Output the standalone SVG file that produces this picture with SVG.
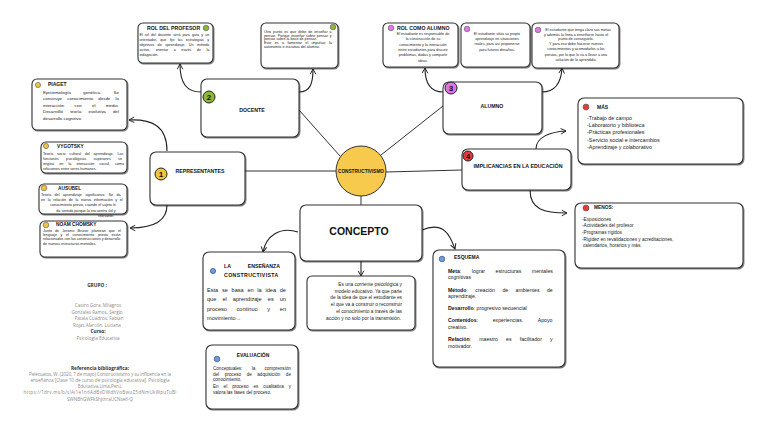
<svg xmlns="http://www.w3.org/2000/svg" width="768" height="431" viewBox="0 0 768 431">
<defs>
<filter id="sh" x="-10%" y="-10%" width="120%" height="130%">
<feDropShadow dx="0.8" dy="1" stdDeviation="0.6" flood-color="#000" flood-opacity="0.55"/>
</filter>
<marker id="ar" viewBox="0 0 8 8" refX="7" refY="4" markerWidth="7" markerHeight="7" orient="auto" markerUnits="userSpaceOnUse">
<path d="M1,0.8 L7,4 L1,7.2" fill="none" stroke="#222" stroke-width="1.1"/>
</marker>
<style>
.box{fill:#fff;stroke:#333;stroke-width:1.1;filter:url(#sh)}
.t{font-family:"Liberation Sans",Arial,sans-serif;fill:#222}
.h{font-family:"Liberation Sans",Arial,sans-serif;font-weight:bold;fill:#111}
.s{font-size:3.7px}
.m{font-size:4.4px}
.g{font-family:"Open Sans","Liberation Sans",sans-serif;fill:#8a8a8a;font-size:4.6px}
.gb{font-family:"Open Sans","Liberation Sans",sans-serif;fill:#333;font-size:4.8px;font-weight:bold}
.c{text-anchor:middle}
.r{text-anchor:end}
.ln{fill:none;stroke:#333;stroke-width:1}
.cv{fill:none;stroke:#222;stroke-width:1.1;marker-end:url(#ar)}
.num{stroke:#222;stroke-width:1}
.numt{font-family:"Liberation Sans",Arial,sans-serif;font-weight:bold;font-size:8px;fill:#111;text-anchor:middle}
.dy{fill:#f3c43e;stroke:#555;stroke-width:0.6}
.dg{fill:#8cb832;stroke:#555;stroke-width:0.6}
.dp{fill:#e07ae6;stroke:#555;stroke-width:0.6}
.dr{fill:#e23b3b;stroke:#555;stroke-width:0.6}
.db{fill:#6d9ce2;stroke:#34507a;stroke-width:0.7}
.bd{font-weight:bold;fill:#111}
</style>
</defs>

<g id="connectors">
<path class="ln" d="M245,171 L336,171"/>
<path class="ln" d="M299,110 L340,156"/>
<path class="ln" d="M381,155 L443,106"/>
<path class="ln" d="M386,172 L462,170"/>
<path class="ln" d="M361,196 L361,205"/>
<path class="cv" d="M361,261 L361,276"/>
<path class="cv" d="M167,151 C167,126 152,119 129,120"/>
<path class="cv" d="M167,205 C167,222 152,228 130,228"/>
<path class="cv" d="M201,92 C187,92 180,84 180,64"/>
<path class="cv" d="M299,92 C310,92 313,84 313,69"/>
<path class="cv" d="M443,92 C430,92 425,83 425,68"/>
<path class="cv" d="M542,92 C555,92 561,84 562,68"/>
<path class="cv" d="M536,149 C536,137 550,132 566,131"/>
<path class="cv" d="M530,190 C530,210 545,213 567,213"/>
<path class="cv" d="M298,232 C280,226 266,236 263,252"/>
<path class="cv" d="M422,230 C445,220 451,238 455,249"/>
</g>

<g id="constructivismo">
<circle cx="361" cy="171" r="25" fill="#f7c94c" stroke="#333" stroke-width="1"/>
<text class="h c" x="361" y="173" font-size="5.6" textLength="46" lengthAdjust="spacingAndGlyphs">CONSTRUCTIVISMO</text>
</g>

<g id="representantes">
<rect class="box" x="150" y="152" width="95" height="53" rx="6"/>
<circle class="num" cx="161" cy="174" r="6" fill="#f3c43e"/>
<text class="numt" x="161" y="177">1</text>
<text class="h c" x="200" y="173" font-size="5.2">REPRESENTANTES</text>
</g>

<g id="piaget">
<rect class="box" x="32" y="79" width="95" height="51" rx="5"/>
<circle class="dy" cx="38" cy="85" r="2.6"/>
<text class="h" x="48" y="86" font-size="5">PIAGET</text>
<text class="t m" x="43" y="94" word-spacing="11.2">Epistemología genética. Se</text>
<text class="t m" x="43" y="100" word-spacing="4">construye conocimiento desde la</text>
<text class="t m" x="43" y="106.5" word-spacing="9.1">interacción con el medio.</text>
<text class="t m" x="43" y="113" word-spacing="5.9">Desarrolló teoría evolutiva del</text>
<text class="t m" x="43" y="119.5">desarrollo cognitivo.</text>
</g>

<g id="vygotsky">
<rect class="box" x="41" y="142" width="86" height="31" rx="5"/>
<circle class="dy" cx="46" cy="146" r="2.6"/>
<text class="h" x="57" y="148" font-size="4.8">VYGOTSKY</text>
<text class="t s" x="43" y="154.5" word-spacing="2.7">Teoría socio cultural del aprendizaje. Las</text>
<text class="t s" x="43" y="159.7" word-spacing="6.3">funciones psicológicas superiores se</text>
<text class="t s" x="43" y="165" word-spacing="4.1">origina en la interacción social, como</text>
<text class="t s" x="43" y="170.3">relaciones entre seres humanos.</text>
</g>

<g id="ausubel">
<rect class="box" x="39" y="184" width="88" height="30" rx="5"/>
<circle class="dy" cx="44" cy="188" r="2.8"/>
<text class="h" x="58" y="189.5" font-size="4.8">AUSUBEL</text>
<text class="t s" x="41" y="195.5" word-spacing="2.3">Teoría del aprendizaje significativo. Se da</text>
<text class="t s" x="41" y="200.8" word-spacing="1.6">en la relación de la nueva información y el</text>
<text class="t s c" x="83" y="206.3">conocimiento previo, cuando el sujeto le</text>
<text class="t s c" x="86" y="211.7">da sentido porque lo encuentra útil y</text>
<text class="t s" x="98" y="216.8">relevante.</text>
</g>

<g id="chomsky">
<rect class="box" x="40" y="221" width="87" height="36" rx="5"/>
<circle class="dy" cx="46" cy="225" r="2.8"/>
<text class="h" x="56" y="226" font-size="4.8">NOAM CHOMSKY</text>
<text class="t s" x="43" y="232" word-spacing="2">Junto de Jerome Bruner plantean que el</text>
<text class="t s" x="43" y="235.8" word-spacing="2.6">lenguaje y el conocimiento previo están</text>
<text class="t" x="43" y="239.6" font-size="3.6">relacionados con las construcciones y desarrollo</text>
<text class="t s" x="43" y="244.5">de nuevas estructuras mentales.</text>
</g>

<g id="docente">
<rect class="box" x="201" y="79" width="98" height="58" rx="6"/>
<circle class="num" cx="209" cy="97" r="6" fill="#8cb832"/>
<text class="numt" x="209" y="100">2</text>
<text class="h c" x="252" y="112" font-size="5.2">DOCENTE</text>
</g>

<g id="rol-profesor">
<rect class="box" x="138" y="23" width="75" height="40" rx="5"/>
<circle class="dg" cx="206" cy="28" r="2.8"/>
<text class="h" x="147" y="30" font-size="5.2">ROL DEL PROFESOR</text>
<text class="t s" x="139.5" y="35.5" word-spacing="1.06">El rol del docente será para guía y un</text>
<text class="t s" x="139.5" y="40.7" word-spacing="2.3">orientador, que fije las estrategias y</text>
<text class="t s" x="139.5" y="45.8" word-spacing="2.5">objetivos de aprendizaje. Un método</text>
<text class="t s" x="139.5" y="50.8" word-spacing="4.5">activo, orientar a través de la</text>
<text class="t s" x="139.5" y="56">indagación.</text>
</g>

<g id="ensenar-pensar">
<rect class="box" x="261" y="23" width="77" height="45" rx="5"/>
<circle class="dg" cx="333" cy="27" r="2.8"/>
<text class="t s" x="264" y="32.7" word-spacing="0.9">Otro punto es que debe de enseñar a</text>
<text class="t s" x="264" y="36.5" word-spacing="0.56">pensar. Porque enseñar sobre pensar y</text>
<text class="t s" x="264" y="40.2">pensar sobre la base de pensar.</text>
<text class="t s" x="264" y="44" word-spacing="2.35">Este es a fomentar el impulsar la</text>
<text class="t s" x="264" y="48">autonomía e iniciativa del alumno.</text>
</g>

<g id="alumno">
<rect class="box" x="443" y="82" width="99" height="52" rx="6"/>
<circle class="num" cx="451" cy="88" r="6" fill="#df72e6"/>
<text class="numt" x="451" y="91">3</text>
<text class="h c" x="492" y="108" font-size="5.2">ALUMNO</text>
</g>

<g id="rol-alumno">
<rect class="box" x="383" y="23" width="75" height="44" rx="5"/>
<circle class="dp" cx="391" cy="28" r="2.8"/>
<text class="h" x="397" y="29.5" font-size="5.2">ROL COMO ALUMNO</text>
<text class="t s c" x="423" y="34.5">El estudiante es responsable de</text>
<text class="t s c" x="423" y="40.3">la construcción de su</text>
<text class="t s c" x="423" y="45.5">conocimiento y la interacción</text>
<text class="t s c" x="423" y="50.8">entre estudiantes para discutir</text>
<text class="t s c" x="423" y="56.3">problemas, dudas y compartir</text>
<text class="t s c" x="423" y="62">ideas.</text>
</g>

<g id="situa-aprendizaje">
<rect class="box" x="461" y="23" width="69" height="44" rx="5"/>
<circle class="dp" cx="467" cy="29" r="2.8"/>
<text class="t s c" x="497" y="34.5">El estudiante sitúa su propio</text>
<text class="t s c" x="497" y="40">aprendizaje en situaciones</text>
<text class="t s c" x="497" y="45.4">reales, para así proponerse</text>
<text class="t s c" x="497" y="51">para futuros desafíos.</text>
</g>

<g id="metas-alumno">
<rect class="box" x="532" y="23" width="87" height="45" rx="5"/>
<circle class="dp" cx="538" cy="30" r="2.8"/>
<text class="t s c" x="578" y="30.8">El estudiante que tenga claro sus metas</text>
<text class="t s c" x="576" y="35.5">y además la línea a enseñarse hasta el</text>
<text class="t s c" x="576" y="40.2">punto de conseguirlo.</text>
<text class="t s c" x="576" y="45">Y para eso debe hacerse nuevos</text>
<text class="t s c" x="576" y="50.2">conocimientos y acomodarlos a los</text>
<text class="t s c" x="576" y="55.5">previos, por lo que lo va a llevar a una</text>
<text class="t s c" x="576" y="61">solución de lo aprendido.</text>
</g>

<g id="implicancias">
<rect class="box" x="462" y="149" width="109" height="41" rx="6"/>
<circle class="num" cx="468" cy="156" r="5" fill="#e23b3b"/>
<text class="numt" x="468" y="158.8" font-size="7">4</text>
<text class="h c" x="518" y="168" font-size="5.3">IMPLICANCIAS EN LA EDUCACIÓN</text>
</g>

<g id="mas">
<rect class="box" x="578" y="98" width="165" height="66" rx="6"/>
<circle class="dr" cx="586" cy="107" r="3"/>
<text class="h" x="597" y="109" font-size="5">MÁS</text>
<text class="t" x="587" y="120" font-size="5.4" fill="#444">-Trabajo de campo</text>
<text class="t" x="587" y="126.8" font-size="5.4" fill="#444">-Laboratorio y biblioteca</text>
<text class="t" x="587" y="134" font-size="5.4" fill="#444">-Prácticas profesionales</text>
<text class="t" x="587" y="141.6" font-size="5.4" fill="#444">-Servicio social e intercambios</text>
<text class="t" x="587" y="148.6" font-size="5.4" fill="#444">-Aprendizaje y colaborativo</text>
</g>

<g id="menos">
<rect class="box" x="575" y="203" width="168" height="65" rx="6"/>
<circle class="dr" cx="586" cy="208" r="3"/>
<text class="h" x="594" y="208.5" font-size="4.8">MENOS:</text>
<text class="t" x="582" y="220.5" font-size="4.7" fill="#444">-Exposiciones</text>
<text class="t" x="582" y="227.2" font-size="4.7" fill="#444">-Actividades del profesor</text>
<text class="t" x="582" y="234" font-size="4.7" fill="#444">-Programas rígidos</text>
<text class="t" x="582" y="241" font-size="4.7" fill="#444">-Rigidez en revalidaciones y acreditaciones,</text>
<text class="t" x="583" y="247.3" font-size="4.7" fill="#444">calendarios, horarios y más.</text>
</g>

<g id="concepto">
<rect class="box" x="300" y="205" width="122" height="56" rx="6"/>
<text class="h c" x="359" y="235" font-size="10.5">CONCEPTO</text>
</g>

<g id="concepto-definicion">
<rect class="box" x="307" y="276" width="108" height="54" rx="5"/>
<text class="t r" x="402" y="286" font-size="4.8">Es una corriente psicológica y</text>
<text class="t r" x="402" y="292.6" font-size="4.8">modelo educativo. Ya que parte</text>
<text class="t r" x="402" y="299.2" font-size="4.8">de la idea de que el estudiante es</text>
<text class="t r" x="402" y="306.2" font-size="4.8">el que va a construir o reconstruir</text>
<text class="t r" x="402" y="312.8" font-size="4.8">el conocimiento a través de las</text>
<text class="t r" x="401" y="319.5" font-size="4.8">acción y no solo por la transmisión.</text>
</g>

<g id="ensenanza-constructivista">
<rect class="box" x="203" y="252" width="92" height="78" rx="6"/>
<circle class="db" cx="213" cy="271" r="2.6"/>
<text class="h" x="224" y="267.5" font-size="5.2">LA</text>
<text class="h r" x="280" y="267.5" font-size="5.2">ENSEÑANZA</text>
<text class="h" x="224" y="276.5" font-size="5.2" letter-spacing="0.38">CONSTRUCTIVISTA</text>
<text class="t" x="207" y="292" font-size="5.6" fill="#333" word-spacing="2.17">Esta se basa en la idea de</text>
<text class="t" x="207" y="301.3" font-size="5.6" fill="#333" word-spacing="4.5">que el aprendizaje es un</text>
<text class="t" x="207" y="310.5" font-size="5.6" fill="#333" word-spacing="8.1">proceso continuo y en</text>
<text class="t" x="207" y="319.5" font-size="5.6" fill="#333">movimiento ..</text>
</g>

<g id="esquema">
<rect class="box" x="433" y="250" width="132" height="117" rx="6"/>
<circle class="db" cx="442" cy="259" r="2.8"/>
<text class="h" x="454" y="259" font-size="5">ESQUEMA</text>
<text class="t" x="448" y="273" font-size="5.2" fill="#444" word-spacing="9.1"><tspan class="bd">Meta</tspan>: lograr estructuras mentales</text>
<text class="t" x="448" y="279.3" font-size="5.2" fill="#444">cognitivas</text>
<text class="t" x="448" y="291.5" font-size="5.2" fill="#444" word-spacing="6"><tspan class="bd">Método</tspan>: creación de ambientes de</text>
<text class="t" x="448" y="298" font-size="5.2" fill="#444">aprendizaje.</text>
<text class="t" x="448" y="310" font-size="5.2" fill="#444"><tspan class="bd">Desarrollo</tspan>: progresivo secuencial</text>
<text class="t" x="448" y="322" font-size="5.2" fill="#444" word-spacing="13.3"><tspan class="bd">Contenidos</tspan>: experiencias. Apoyo</text>
<text class="t" x="448" y="328.5" font-size="5.2" fill="#444">creativo.</text>
<text class="t" x="448" y="341" font-size="5.2" fill="#444" word-spacing="6.7"><tspan class="bd">Relación</tspan>: maestro es facilitador y</text>
<text class="t" x="448" y="347.5" font-size="5.2" fill="#444">motivador.</text>
</g>

<g id="evaluacion">
<rect class="box" x="206" y="345" width="92" height="64" rx="6"/>
<circle class="db" cx="217" cy="359" r="2.8"/>
<text class="h c" x="253" y="356.5" font-size="5">EVALUACIÓN</text>
<text class="t" x="213" y="370" font-size="4.6" fill="#444" word-spacing="8">Conceptuales: la comprensión</text>
<text class="t" x="213" y="375.8" font-size="4.6" fill="#444" word-spacing="4.3">del proceso de adquisición de</text>
<text class="t" x="213" y="381.3" font-size="4.6" fill="#444">conocimiento.</text>
<text class="t" x="213" y="388" font-size="4.6" fill="#444" word-spacing="3.7">En el proceso es cualitativa y</text>
<text class="t" x="213" y="394.3" font-size="4.6" fill="#444">valora las fases del proceso.</text>
</g>

<g id="grupo">
<text class="gb c" x="97" y="287">GRUPO :</text>
<text class="g c" x="98" y="307">Castro Gora, Milagros</text>
<text class="g c" x="97" y="313.5">Gonzales Ramos, Sergio</text>
<text class="g c" x="99" y="320">Patala Cuadros, Fabian</text>
<text class="g c" x="97" y="326.5">Rojas Alarcón, Luciana</text>
<text class="gb c" x="98" y="332.5">Curso:</text>
<text class="g c" x="98" y="339.5">Psicología Educativa</text>
</g>

<g id="referencia">
<text class="gb c" x="100" y="369.5" fill="#555">Referencia bibliográfica:</text>
<text class="g c" x="100" y="375.5" textLength="142">Pelecuatos, W. (2020, 7 de mayo) Constructivismo y su influencia en la</text>
<text class="g c" x="100" y="381.5">enseñanza [Clase 10 de curso de psicología educativa]. Psicología</text>
<text class="g c" x="100" y="388">Educativa,Lima,Perú.</text>
<text class="g c" x="100" y="394" textLength="153">https://1drv.ms/b/s!Ai1e1n6AdBxDWdhVoBwuZ5dNmUkWpuTuBl</text>
<text class="g c" x="100" y="400.5">SWNBhGWFkShjthraUCNse6-Q</text>
</g>
</svg>
